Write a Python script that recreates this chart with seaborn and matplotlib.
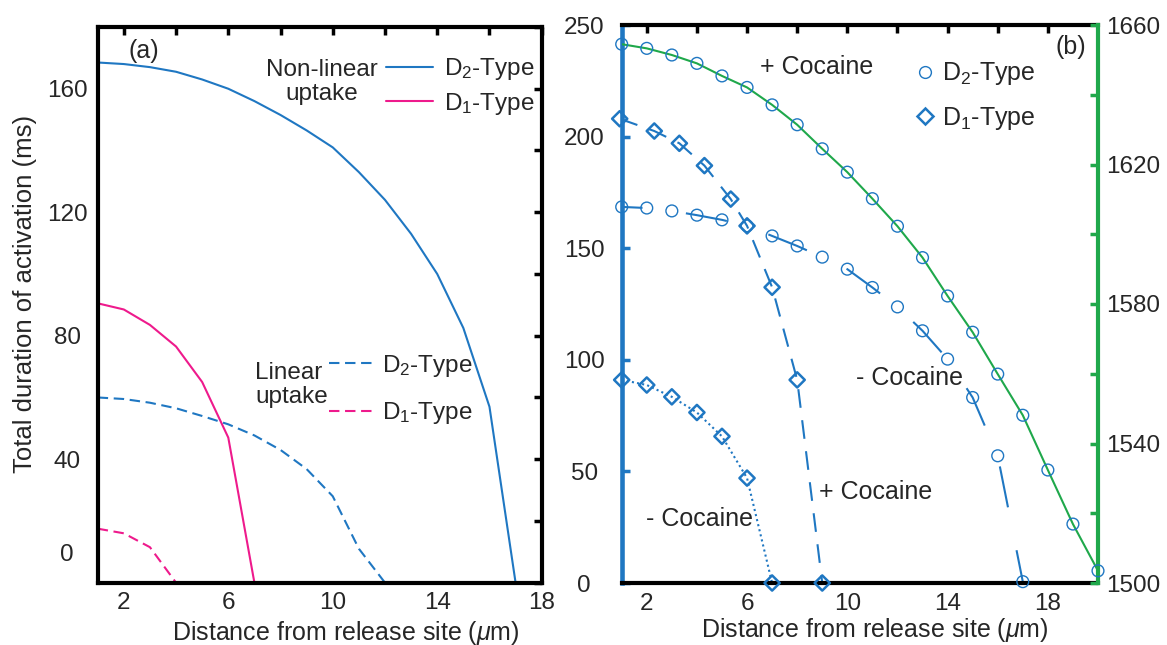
import numpy as np
import pandas as pd
import matplotlib
matplotlib.use("Agg")
import matplotlib.pyplot as plt
import seaborn as sns
from matplotlib.lines import Line2D

# ---------------- data: panel (a) ----------------
dist_nl_d2 = [1, 2, 3, 4, 5, 6, 7, 8, 9, 10, 11, 12, 13, 14, 15, 16, 17]
dur_nl_d2 = [168.5, 168, 167, 165.5, 163, 160, 156, 151.5, 146.5, 141, 133, 124, 113, 100, 82.5, 57, 0]
dist_nl_d1 = [1, 2, 3, 4, 5, 6, 7]
dur_nl_d1 = [90.5, 88.5, 83.5, 76.5, 65, 47, 0]
dist_lin_d2 = [1, 2, 3, 4, 5, 6, 7, 8, 9, 10, 11, 12]
dur_lin_d2 = [60, 59.5, 58.3, 56.5, 54, 51.3, 47.7, 43, 36.8, 28, 11, 0]
dist_lin_d1 = [1, 2, 3, 4]
dur_lin_d1 = [17.5, 16, 11.5, 0]

# ---------------- data: panel (b) ----------------
dist_plus_d2 = [1, 2, 3, 4, 5, 6, 7, 8, 9, 10, 11, 12, 13, 14, 15, 16, 17, 18, 19, 20]
dur_plus_d2 = [1654.5, 1653.3, 1651.4, 1649.0, 1645.4, 1642.1, 1637.1, 1631.4, 1624.5, 1617.8,
               1610.2, 1602.3, 1593.3, 1582.3, 1571.9, 1559.9, 1548.1, 1532.4, 1516.9, 1503.5]
dist_minus_d2 = [1, 2, 3, 4, 5, 6, 7, 8, 9, 10, 11, 12, 13, 14, 15, 16, 17]
dur_minus_d2 = [168.5, 168, 166.7, 164.8, 162.7, 160, 155.5, 151, 146, 140.6, 132.4, 123.7, 113, 100.3, 83.1, 57, 0.6]
dist_plus_d1 = [0.92, 2.3, 3.3, 4.3, 5.35, 6, 7, 8, 9]
dur_plus_d1 = [208, 202.5, 197, 187, 172, 160, 132.5, 91, 0]
dist_minus_d1 = [1, 2, 3, 4, 5, 6, 7]
dur_minus_d1 = [91, 88.7, 83.4, 76.4, 65.7, 47, 0]

xlabel = "Distance from release site ($\\mu$m)"
ylabel = "Total duration of activation (ms)"

BLUE = "#1f77c2"
PINK = "#ee1a8c"
GREEN = "#1fa84b"

sns.set_style("white")
plt.rcParams["font.family"] = ["Liberation Sans", "DejaVu Sans"]
plt.rcParams["mathtext.fontset"] = "custom"
plt.rcParams["mathtext.rm"] = "Liberation Sans"
plt.rcParams["mathtext.it"] = "Liberation Sans:italic"
plt.rcParams["mathtext.bf"] = "Liberation Sans:bold"

W, H = 1167, 645
fig = plt.figure(figsize=(W / 100, H / 100), dpi=100)


def fx(px):
    return px / W


def fy(py):
    return 1 - py / H


TF = 17.5   # tick font
LF = 18     # label font

# ---------------- panel (a) ----------------
axa = fig.add_axes([fx(97.7), fy(582.7), fx(541.7) - fx(97.7), fy(27) - fy(582.7)])
lw = 1.5
sns.lineplot(x=dist_nl_d2, y=dur_nl_d2, ax=axa, color=BLUE, lw=lw, sort=False, estimator=None)
sns.lineplot(x=dist_nl_d1, y=dur_nl_d1, ax=axa, color=PINK, lw=lw, sort=False, estimator=None)
sns.lineplot(x=dist_lin_d2, y=dur_lin_d2, ax=axa, color=BLUE, lw=lw, sort=False, estimator=None,
             linestyle=(0, (5, 2.7)))
sns.lineplot(x=dist_lin_d1, y=dur_lin_d1, ax=axa, color=PINK, lw=lw, sort=False, estimator=None,
             linestyle=(0, (5, 2.7)))
axa.set_xlim(1, 18)
axa.set_ylim(0, 180)
axa.set_xticks(np.arange(2, 19, 2))
axa.set_xticklabels([str(v) if v in (2, 6, 10, 14, 18) else "" for v in range(2, 19, 2)])
axa.set_yticks(np.arange(0, 181, 20))
axa.set_yticklabels([str(v) if v in (40, 80, 120, 160) else "" for v in range(0, 181, 20)])
axa.tick_params(direction="in", length=6, width=2.5, top=True, right=True,
                labelsize=TF, color="black")
axa.tick_params(axis="y", pad=22)
axa.tick_params(axis="x", pad=7)
for lab in axa.get_yticklabels():
    lab.set_horizontalalignment("center")
axa.text(-0.069, 9, "0", transform=axa.get_yaxis_transform(), ha="center", va="center", fontsize=TF)
for s in axa.spines.values():
    s.set_linewidth(3)
    s.set_color("black")
axa.set_xlabel(xlabel, fontsize=LF, labelpad=3)
axa.xaxis.label.set_x(0.559)
axa.set_ylabel(ylabel, fontsize=18.5)
axa.yaxis.set_label_coords(-0.136, 0.52)
axa.text(0.104, 0.957, "(a)", transform=axa.transAxes, ha="center", va="center", fontsize=LF)

# legends in (a)
h1 = [Line2D([], [], color=BLUE, lw=lw), Line2D([], [], color=PINK, lw=lw)]
leg1 = axa.legend(h1, ["D$_2$-Type", "D$_1$-Type"], loc="center left",
                  bbox_to_anchor=(fx(386), fy(86.4)), bbox_transform=fig.transFigure,
                  frameon=False, borderpad=0, borderaxespad=0, handlelength=1.95,
                  handletextpad=0.42, labelspacing=0.35, fontsize=TF)
axa.add_artist(leg1)
h2 = [Line2D([], [], color=BLUE, lw=lw, linestyle=(0, (5, 2.7))),
      Line2D([], [], color=PINK, lw=lw, linestyle=(0, (5, 2.7)))]
axa.legend(h2, ["D$_2$-Type", "D$_1$-Type"], loc="center left",
           bbox_to_anchor=(fx(329), fy(389.5)), bbox_transform=fig.transFigure,
           frameon=False, borderpad=0, borderaxespad=0, handlelength=1.82,
           handletextpad=0.38, labelspacing=0.9, fontsize=TF)
fig.text(fx(322), fy(82), "Non-linear\nuptake", ha="center", va="center",
         multialignment="center", fontsize=TF, linespacing=1.1)
fig.text(fx(255), fy(385), "Linear\nuptake", ha="left", va="center",
         multialignment="left", fontsize=TF, linespacing=1.1)

# ---------------- panel (b) ----------------
axb = fig.add_axes([fx(621.7), fy(583), fx(1098) - fx(621.7), fy(25) - fy(583)])
axg = axb.twinx()

sns.lineplot(x=dist_minus_d2, y=dur_minus_d2, ax=axb, color=BLUE, lw=lw, sort=False, estimator=None,
             linestyle=(10, (20, 21)))
sns.scatterplot(x=dist_minus_d2, y=dur_minus_d2, ax=axb, marker="o", s=72, facecolor="none",
                edgecolor=BLUE, linewidth=1.0, clip_on=False, zorder=4)
sns.lineplot(x=dist_plus_d1, y=dur_plus_d1, ax=axb, color=BLUE, lw=lw, sort=False, estimator=None,
             linestyle=(0, (9, 6)))
sns.scatterplot(x=dist_plus_d1, y=dur_plus_d1, ax=axb, marker="D", s=60, facecolor="none",
                edgecolor=BLUE, linewidth=1.8, clip_on=False, zorder=4)
sns.lineplot(x=dist_minus_d1, y=dur_minus_d1, ax=axb, color=BLUE, lw=lw, sort=False, estimator=None,
             linestyle=(0, (1, 1.5)))
sns.scatterplot(x=dist_minus_d1, y=dur_minus_d1, ax=axb, marker="D", s=60, facecolor="none",
                edgecolor=BLUE, linewidth=1.8, clip_on=False, zorder=4)

sns.lineplot(x=dist_plus_d2, y=dur_plus_d2, ax=axg, color=GREEN, lw=lw, sort=False, estimator=None)
sns.scatterplot(x=dist_plus_d2, y=dur_plus_d2, ax=axg, marker="o", s=72, facecolor="none",
                edgecolor=BLUE, linewidth=1.0, clip_on=False, zorder=4)

axb.set_xlim(1, 20)
axb.set_ylim(0, 250)
axg.set_ylim(1500, 1660)
axb.set_xticks(np.arange(2, 19, 2))
axb.set_xticklabels([str(v) if v in (2, 6, 10, 14, 18) else "" for v in range(2, 19, 2)])
axb.set_yticks(np.arange(0, 251, 50))
axb.tick_params(direction="in", length=6, width=2.5, top=True, right=False, labelsize=TF)
axb.tick_params(axis="x", pad=7, color="black")
axb.tick_params(axis="y", pad=27, color=BLUE)
for lab in axb.get_yticklabels():
    lab.set_horizontalalignment("center")
axg.set_yticks([1500, 1540, 1580, 1620, 1660])
axg.set_yticks([1520, 1560, 1600, 1640], minor=True)
axg.tick_params(axis="y", which="both", direction="in", length=6, width=2.5, color=GREEN,
                labelsize=TF, pad=6)
axg.set_ylabel("")
axb.set_ylabel("")
for name, s in axb.spines.items():
    s.set_linewidth(3)
    s.set_color("black")
axb.spines["left"].set_color(BLUE)
axb.spines["left"].set_linewidth(3.3)
axb.spines["right"].set_visible(False)
for name in ("left", "top", "bottom"):
    axg.spines[name].set_visible(False)
axg.spines["right"].set_color(GREEN)
axg.spines["right"].set_linewidth(3)
axb.set_xlabel(xlabel, fontsize=LF, labelpad=1)
axb.xaxis.label.set_x(0.531)

axb.text(0.975, 0.96, "(b)", transform=axb.transAxes, ha="right", va="center", fontsize=LF)
fig.text(fx(817), fy(67.5), "+ Cocaine", ha="center", va="center", fontsize=LF)
fig.text(fx(910), fy(378), "- Cocaine", ha="center", va="center", fontsize=LF)
fig.text(fx(876), fy(492), "+ Cocaine", ha="center", va="center", fontsize=LF)
fig.text(fx(699), fy(519), "- Cocaine", ha="center", va="center", fontsize=LF)

h3 = [Line2D([], [], ls="none", marker="o", ms=8.5, mfc="none", mec=BLUE, mew=1.0),
      Line2D([], [], ls="none", marker="D", ms=8, mfc="none", mec=BLUE, mew=1.8)]
axg.legend(h3, ["D$_2$-Type", "D$_1$-Type"], loc="center left",
           bbox_to_anchor=(fx(915), fy(96)), bbox_transform=fig.transFigure,
           frameon=False, borderpad=0, borderaxespad=0, handlelength=0.8,
           handletextpad=0.26, labelspacing=0.7, fontsize=LF)

fig.savefig("out.png", dpi=100)
